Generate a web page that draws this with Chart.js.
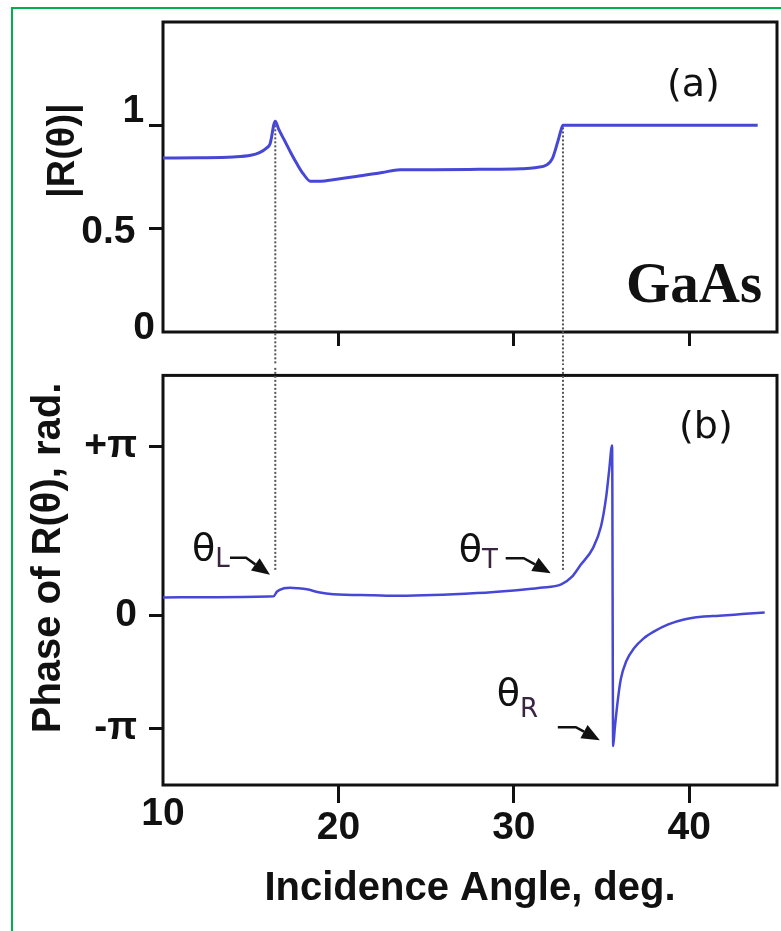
<!DOCTYPE html>
<html>
<head>
<meta charset="utf-8">
<script src="https://cdn.jsdelivr.net/npm/chart.js@4.4.1/dist/chart.umd.min.js"></script>
<style>
  body { margin: 0; background: #fff; }
  #wrap { position: relative; width: 781px; height: 931px; overflow: hidden; background: #fff; }
  #edge { position: absolute; left: 11px; top: 7px; width: 820px; height: 960px;
          border-left: 2px solid #00b050; border-top: 2px solid #00b050; }
  canvas { position: absolute; left: 0; }
  #chartA { top: 0; }
  #chartB { top: 340px; }
</style>
</head>
<body>
<div id="wrap">
  <div id="edge"></div>
  <canvas id="chartA" width="781" height="365"></canvas>
  <canvas id="chartB" width="781" height="591"></canvas>
</div>
<script>
// x axis: incidence angle, deg.
var angleTicks = [10, 20, 30, 40];

// panel (a): |R(theta)|
var magAngles = [10, 12, 14, 15, 15.5, 15.9, 16.1, 16.4, 16.6, 16.97, 17.3, 17.66, 18.0, 18.4,
  19.0, 19.7, 21, 22.5, 23.5, 25.4, 28, 30.4, 31.2, 31.9, 32.2, 32.5, 32.7, 32.8, 34, 38, 43.9];
var magValues = [0.842, 0.843, 0.847, 0.855, 0.868, 0.89, 0.91, 1.02, 0.98, 0.92, 0.865, 0.81, 0.765, 0.73,
  0.73, 0.737, 0.752, 0.772, 0.785, 0.785, 0.787, 0.79, 0.795, 0.81, 0.84, 0.92, 0.98, 1.0, 1.0, 1.0, 1.0];
var magTicks = [0, 0.5, 1];
var magTickLabels = ['0', '0.5', '1'];

// panel (b): phase of R(theta), rad.
var phaseAngles = [10, 13, 16.3, 16.5, 16.9, 17.24, 17.7, 18.2, 18.95, 19.7, 22, 23.5, 27.9, 30, 31.5,
  32.7, 33.3, 33.8, 34.5, 34.97, 35.26, 35.43, 35.6, 35.66, 35.75, 35.94, 36.1, 36.4, 36.86, 37.4,
  38.0, 38.8, 39.7, 40.7, 41.7, 43.0, 44.3];
var phaseValues = [0.34, 0.345, 0.36, 0.45, 0.51, 0.52, 0.51, 0.49, 0.43, 0.40, 0.38, 0.37, 0.42, 0.47, 0.52,
  0.58, 0.72, 0.94, 1.25, 1.66, 2.2, 2.69, 3.16, -2.42, -2.1, -1.53, -1.17, -0.85, -0.6, -0.42,
  -0.29, -0.16, -0.07, -0.02, 0.0, 0.03, 0.06];
// the source figure puts its "-π" tick closer to 0 than "+π"
var phaseTicks = [Math.PI, 0, -2.09];
var phaseTickLabels = ['+π', '0', '-π'];

// dotted guides at theta_L and theta_T
var guideAngles = [16.4, 32.8];
var guideMagTop = [1.0, 0.99];
var guidePhaseEnd = [0.85, 0.85];

// arrow tips of the theta labels
var markNames = ['L', 'T', 'R'];
var markAngles = [16.1, 32.1, 34.9];
var markPhases = [0.76, 0.79, -2.31];

// ---- style ----
var sans = "'Liberation Sans', Arial, sans-serif";
var ink = '#111';
var curveColor = '#4747d6';
var none = 'rgba(0,0,0,0)';
var magLabelPad = { '0': '', '0.5': '\u2002', '1': ' ' };
var magLabelShift = { '0': -4, '0.5': 4, '1': -14 };
var markStyle = [
  { tx: -78, ty: -15, sy: -8, ax: -40, ay: -17, bx: -24 },
  { tx: -92, ty: -12, sy: -5, ax: -45, ay: -15, bx: -27 },
  { tx: -103, ty: -35, sy: -23, ax: -42, ay: -13, bx: -24 }
];

function pts(xs, ys) {
  return xs.map(function (x, i) { return { x: x, y: ys[i] }; });
}

function setTicks(values) {
  return function (scale) {
    scale.ticks = values.map(function (v) { return { value: v }; });
  };
}

function hideAt(value) {
  return function (ctx) { return ctx.tick && ctx.tick.value === value ? none : ink; };
}

var framePlugin = {
  id: 'frame',
  beforeDatasetsDraw: function (chart) {
    var a = chart.chartArea, c = chart.ctx;
    c.save();
    c.strokeStyle = ink;
    c.lineWidth = 3;
    c.strokeRect(a.left, a.top, a.right - a.left, a.bottom - a.top);
    c.restore();
  }
};

var labelsA = {
  id: 'labelsA',
  afterDatasetsDraw: function (chart) {
    var a = chart.chartArea, c = chart.ctx;
    c.save();
    c.fillStyle = ink;
    c.textAlign = 'left';
    c.textBaseline = 'alphabetic';
    c.font = '38px "DejaVu Sans"';
    c.fillText('(a)', a.right - 110, a.top + 74);
    c.font = 'bold 57px "Liberation Serif"';
    c.fillText('GaAs', a.right - 151, a.bottom - 30);
    c.restore();
  }
};

var labelsB = {
  id: 'labelsB',
  afterDatasetsDraw: function (chart) {
    var a = chart.chartArea, c = chart.ctx;
    var xs = chart.scales.x, ys = chart.scales.y;
    c.save();
    c.textAlign = 'left';
    c.textBaseline = 'alphabetic';
    c.fillStyle = ink;
    c.font = '38px "DejaVu Sans"';
    c.fillText('(b)', a.right - 98, a.top + 63);
    markNames.forEach(function (name, i) {
      var s = markStyle[i];
      var px = xs.getPixelForValue(markAngles[i]);
      var py = ys.getPixelForValue(markPhases[i]);
      c.fillStyle = ink;
      c.font = '38px "DejaVu Sans"';
      c.fillText('θ', px + s.tx, py + s.ty);
      var w = c.measureText('θ').width;
      c.fillStyle = '#3a2540';
      c.font = '26px "DejaVu Sans"';
      c.fillText(name, px + s.tx + w, py + s.sy);
      // bent arrow with a filled head
      var bx = px + s.bx, by = py + s.ay;
      var dx = px - bx, dy = py - by, len = Math.sqrt(dx * dx + dy * dy);
      var ux = dx / len, uy = dy / len;
      var hx = px - ux * 18, hy = py - uy * 18;
      c.strokeStyle = ink;
      c.fillStyle = ink;
      c.lineWidth = 2.5;
      c.beginPath();
      c.moveTo(px + s.ax, by);
      c.lineTo(bx, by);
      c.lineTo(hx, hy);
      c.stroke();
      c.beginPath();
      c.moveTo(px, py);
      c.lineTo(hx - uy * 7.5, hy + ux * 7.5);
      c.lineTo(hx + uy * 7.5, hy - ux * 7.5);
      c.closePath();
      c.fill();
    });
    c.restore();
  }
};

function guideSet(data) {
  return { data: data, borderColor: '#555', borderWidth: 2, borderDash: [2, 2],
           pointRadius: 0, clip: false, order: 2 };
}

var chartA = new Chart(document.getElementById('chartA'), {
  type: 'line',
  data: {
    datasets: [
      { data: pts(magAngles, magValues), borderColor: curveColor, borderWidth: 3,
        pointRadius: 0, cubicInterpolationMode: 'monotone', order: 1 }
    ].concat(guideAngles.map(function (g, i) {
      return guideSet([{ x: g, y: guideMagTop[i] }, { x: g, y: -0.16 }]);
    }))
  },
  options: {
    responsive: false,
    animation: false,
    events: [],
    layout: { padding: { top: 18, right: 4, left: 0, bottom: 0 } },
    plugins: { legend: { display: false }, tooltip: { enabled: false } },
    scales: {
      x: {
        type: 'linear', min: 10, max: 45,
        afterBuildTicks: setTicks(angleTicks),
        afterFit: function (s) { s.height = 33; },
        border: { display: false },
        grid: { drawOnChartArea: false, tickLength: 14, tickWidth: 3, tickColor: hideAt(10) },
        ticks: { display: false }
      },
      y: {
        type: 'linear', min: 0, max: 1.5,
        afterBuildTicks: setTicks(magTicks),
        afterFit: function (s) { s.width = 163; },
        border: { display: false },
        grid: { drawOnChartArea: false, tickLength: 14, tickWidth: 3, tickColor: hideAt(0) },
        ticks: {
          padding: -6,
          color: ink,
          autoSkip: false,
          callback: function (v) {
            var t = magTickLabels[magTicks.indexOf(v)] + magLabelPad[v];
            return magLabelShift[v] < 0 ? [t, ''] : ['', t];
          },
          font: function (ctx) {
            var v = ctx.tick ? ctx.tick.value : 1;
            return { family: sans, size: 39, weight: 'bold',
                     lineHeight: (2 * Math.abs(magLabelShift[v] || 10)) + 'px' };
          }
        },
        title: {
          display: true,
          text: '     |R(θ)|',
          color: ink,
          font: { family: sans, size: 38, weight: 'bold' },
          padding: { top: 41, bottom: 0 }
        }
      }
    }
  },
  plugins: [framePlugin, labelsA]
});

var chartB = new Chart(document.getElementById('chartB'), {
  type: 'line',
  data: {
    datasets: [
      { data: pts(phaseAngles, phaseValues), borderColor: curveColor, borderWidth: 2.5,
        pointRadius: 0, cubicInterpolationMode: 'monotone', order: 1 }
    ].concat(guideAngles.map(function (g, i) {
      return guideSet([{ x: g, y: 4.6 }, { x: g, y: guidePhaseEnd[i] }]);
    }))
  },
  options: {
    responsive: false,
    animation: false,
    events: [],
    layout: { padding: { top: 25, right: 4, left: 0, bottom: 0 } },
    plugins: { legend: { display: false }, tooltip: { enabled: false } },
    scales: {
      x: {
        type: 'linear', min: 10, max: 45,
        afterBuildTicks: setTicks(angleTicks),
        afterFit: function (s) { s.height = 146; },
        border: { display: false },
        grid: { drawOnChartArea: false, tickLength: 18, tickWidth: 3, tickColor: hideAt(10) },
        ticks: {
          padding: 0,
          color: ink,
          autoSkip: false,
          maxRotation: 0,
          callback: function (v) { return String(v); },
          font: function (ctx) {
            var v = ctx.tick ? ctx.tick.value : 20;
            return { family: sans, size: 39, weight: 'bold', lineHeight: (v === 10 ? 23 : 51) + 'px' };
          }
        },
        title: {
          display: true,
          text: 'Incidence Angle, deg.',
          color: ink,
          font: { family: sans, size: 40, weight: 'bold' },
          padding: { top: 0, bottom: 18 }
        }
      },
      y: {
        type: 'linear', min: -Math.PI, max: 4.46,
        afterBuildTicks: setTicks(phaseTicks),
        afterFit: function (s) { s.width = 163; },
        border: { display: false },
        grid: { drawOnChartArea: false, tickLength: 14, tickWidth: 3, tickColor: ink },
        ticks: {
          padding: 12,
          color: ink,
          autoSkip: false,
          callback: function (v) { return phaseTickLabels[phaseTicks.indexOf(v)]; },
          font: { family: sans, size: 39, weight: 'bold' }
        },
        title: {
          display: true,
          text: '    Phase of R(θ), rad.',
          color: ink,
          font: { family: sans, size: 40, weight: 'bold' },
          padding: { top: 25, bottom: 0 }
        }
      }
    }
  },
  plugins: [framePlugin, labelsB]
});
</script>
</body>
</html>
